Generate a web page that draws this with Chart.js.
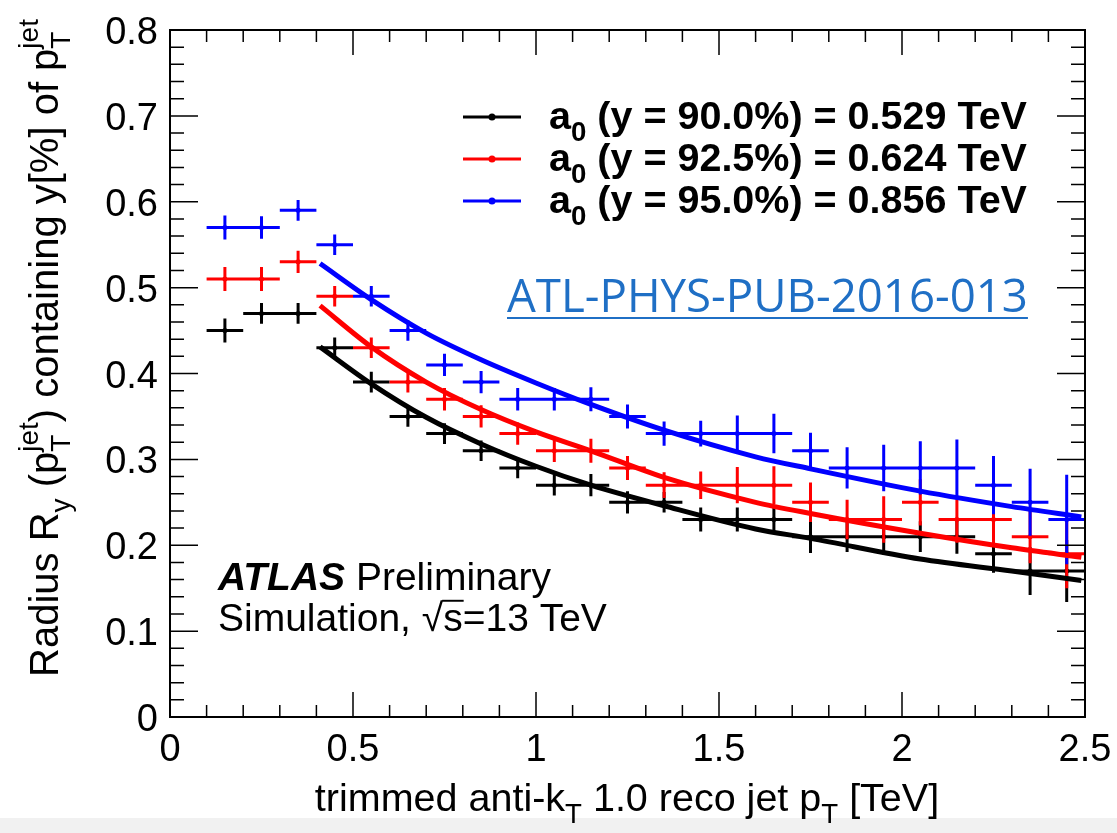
<!DOCTYPE html>
<html>
<head>
<meta charset="utf-8">
<script src="https://cdn.jsdelivr.net/npm/chart.js@4.4.1/dist/chart.umd.min.js"></script>
<style>
  html, body { margin: 0; padding: 0; background: #fff; }
  canvas { display: block; }
</style>
</head>
<body>
<canvas id="radius" width="1117" height="833"></canvas>
<script>
// pT bins of 0.1 TeV
const binCenters = [0.15, 0.25, 0.35, 0.45, 0.55, 0.65, 0.75, 0.85, 0.95, 1.05, 1.15, 1.25,
                    1.35, 1.45, 1.55, 1.65, 1.75, 1.85, 1.95, 2.05, 2.15, 2.25, 2.35, 2.45]
const binHalfWidth = 0.05

// radius containing 90 / 92.5 / 95 % of the jet pT
const r900 = [0.45, 0.47, 0.47, 0.43, 0.39, 0.35, 0.33, 0.31, 0.29, 0.27, 0.27, 0.25,
              0.25, 0.23, 0.23, 0.23, 0.21, 0.21, 0.21, 0.21, 0.21, 0.19, 0.17, 0.17]
const r900Err = [0.014, 0.012, 0.012, 0.012, 0.012, 0.012, 0.012, 0.012, 0.012, 0.012, 0.013, 0.013,
                 0.012, 0.014, 0.014, 0.014, 0.019, 0.018, 0.021, 0.018, 0.020, 0.022, 0.028, 0.036]
const r925 = [0.51, 0.51, 0.53, 0.49, 0.43, 0.39, 0.37, 0.35, 0.33, 0.31, 0.31, 0.29,
              0.27, 0.27, 0.27, 0.27, 0.25, 0.23, 0.23, 0.25, 0.23, 0.23, 0.21, 0.19]
const r925Err = [0.014, 0.014, 0.013, 0.012, 0.012, 0.012, 0.013, 0.013, 0.013, 0.013, 0.014, 0.014,
                 0.015, 0.016, 0.021, 0.022, 0.023, 0.023, 0.027, 0.027, 0.027, 0.028, 0.031, 0.040]
const r950 = [0.57, 0.57, 0.59, 0.55, 0.49, 0.45, 0.41, 0.39, 0.37, 0.37, 0.37, 0.35,
              0.33, 0.33, 0.33, 0.33, 0.31, 0.29, 0.29, 0.29, 0.29, 0.27, 0.25, 0.23]
const r950Err = [0.014, 0.013, 0.012, 0.012, 0.012, 0.012, 0.013, 0.013, 0.013, 0.013, 0.014, 0.014,
                 0.014, 0.015, 0.021, 0.023, 0.021, 0.024, 0.027, 0.031, 0.033, 0.034, 0.039, 0.052]

// fitted curves, sampled
const fitPt = [0.41, 0.55, 0.70, 0.85, 1.00, 1.15, 1.35, 1.60, 1.75, 2.05, 2.30, 2.49]
const fit900 = [0.431, 0.388, 0.349, 0.318, 0.292, 0.270, 0.246, 0.219, 0.208, 0.184, 0.170, 0.159]
const fit925 = [0.479, 0.431, 0.390, 0.358, 0.332, 0.310, 0.279, 0.250, 0.237, 0.214, 0.197, 0.186]
const fit950 = [0.528, 0.486, 0.447, 0.416, 0.389, 0.364, 0.334, 0.303, 0.289, 0.263, 0.245, 0.233]

const legendFractions = ['90.0%', '92.5%', '95.0%']
const legendA0 = ['0.529', '0.624', '0.856']

const xTicks = [0, 0.5, 1, 1.5, 2, 2.5]
const xTickLabels = ['0', '0.5', '1', '1.5', '2', '2.5']
const yTicks = [0, 0.1, 0.2, 0.3, 0.4, 0.5, 0.6, 0.7, 0.8]
const yTickLabels = ['0', '0.1', '0.2', '0.3', '0.4', '0.5', '0.6', '0.7', '0.8']

const FONT = '"Liberation Sans", Arial, Helvetica, sans-serif'
const colors = ['#000000', '#ff0000', '#0000ff']

function points(xs, ys) {
  return xs.map((x, i) => ({ x: x, y: ys[i] }))
}

// rich text: plain parts {t}, index parts {sub, sup}
function richWidth(ctx, parts, size, style) {
  let w = 0
  for (const p of parts) {
    if (p.t !== undefined) {
      ctx.font = `${p.style || style} ${size}px ${FONT}`
      w += ctx.measureText(p.t).width
    } else {
      ctx.font = `${style} ${size * 0.7}px ${FONT}`
      w += Math.max(p.sub ? ctx.measureText(p.sub).width : 0, p.sup ? ctx.measureText(p.sup).width : 0)
    }
  }
  return w
}

function drawRich(ctx, parts, x, y, size, style, align) {
  let cx = align === 'center' ? x - richWidth(ctx, parts, size, style) / 2 : x
  ctx.textAlign = 'left'
  ctx.textBaseline = 'alphabetic'
  for (const p of parts) {
    if (p.t !== undefined) {
      ctx.font = `${p.style || style} ${size}px ${FONT}`
      ctx.fillText(p.t, cx, y)
      const w = ctx.measureText(p.t).width
      if (p.overline) {
        ctx.fillRect(cx - 1, y - size * 0.8, w + 2, Math.max(1.5, size * 0.05))
      }
      cx += w
    } else {
      ctx.font = `${style} ${size * 0.7}px ${FONT}`
      let w = 0
      if (p.sub) {
        ctx.fillText(p.sub, cx, y + size * 0.3)
        w = ctx.measureText(p.sub).width
      }
      if (p.sup) {
        ctx.fillText(p.sup, cx, y - size * 0.5)
        w = Math.max(w, ctx.measureText(p.sup).width)
      }
      cx += w
    }
  }
}

const errorBars = {
  id: 'errorBars',
  afterDatasetDraw(chart, args) {
    const ds = chart.data.datasets[args.index]
    if (!ds.yErr) return
    const ctx = chart.ctx
    const xs = chart.scales.x
    const ys = chart.scales.y
    ctx.save()
    ctx.strokeStyle = ds.borderColor
    ctx.lineWidth = 3
    ctx.beginPath()
    ds.data.forEach((p, i) => {
      const px = xs.getPixelForValue(p.x)
      const py = ys.getPixelForValue(p.y)
      ctx.moveTo(xs.getPixelForValue(p.x - binHalfWidth), py)
      ctx.lineTo(xs.getPixelForValue(p.x + binHalfWidth), py)
      ctx.moveTo(px, ys.getPixelForValue(p.y - ds.yErr[i]))
      ctx.lineTo(px, ys.getPixelForValue(p.y + ds.yErr[i]))
    })
    ctx.stroke()
    ctx.restore()
  }
}

const rootFrame = {
  id: 'rootFrame',
  beforeDraw(chart) {
    const ctx = chart.ctx
    ctx.save()
    ctx.fillStyle = '#f1f1f1'
    ctx.fillRect(0, 818, chart.width, chart.height - 818)
    ctx.restore()
  },
  afterDraw(chart) {
    const ctx = chart.ctx
    const a = chart.chartArea
    const xs = chart.scales.x
    const ys = chart.scales.y
    ctx.save()
    ctx.strokeStyle = '#000'
    ctx.fillStyle = '#000'
    ctx.lineWidth = 2
    ctx.strokeRect(a.left, a.top, a.right - a.left, a.bottom - a.top)

    // ticks inside the frame on all four sides
    ctx.beginPath()
    for (let i = 0; i <= 25; i++) {
      const px = xs.getPixelForValue(i / 10)
      const len = i % 5 === 0 ? 25 : 12
      ctx.moveTo(px, a.bottom); ctx.lineTo(px, a.bottom - len)
      ctx.moveTo(px, a.top); ctx.lineTo(px, a.top + len)
    }
    for (let i = 0; i <= 40; i++) {
      const py = ys.getPixelForValue(i / 50)
      const len = i % 5 === 0 ? 28 : 14
      ctx.moveTo(a.left, py); ctx.lineTo(a.left + len, py)
      ctx.moveTo(a.right, py); ctx.lineTo(a.right - len, py)
    }
    ctx.lineWidth = 1.5
    ctx.stroke()

    // tick labels
    ctx.font = `38px ${FONT}`
    ctx.textAlign = 'center'
    ctx.textBaseline = 'alphabetic'
    xTicks.forEach((v, i) => ctx.fillText(xTickLabels[i], xs.getPixelForValue(v), a.bottom + 44))
    ctx.textAlign = 'right'
    yTicks.forEach((v, i) => ctx.fillText(yTickLabels[i], a.left - 12, ys.getPixelForValue(v) + 14))

    // axis titles
    drawRich(ctx, [{ t: 'trimmed anti-k' }, { sub: 'T' }, { t: ' 1.0 reco jet p' }, { sub: 'T' }, { t: ' [TeV]' }],
      627, 811, 39.5, 'normal', 'center')
    ctx.save()
    ctx.translate(58, 348)
    ctx.rotate(-Math.PI / 2)
    drawRich(ctx, [{ t: 'Radius R' }, { sub: 'y' }, { t: ' (p' }, { sub: 'T', sup: 'jet' },
      { t: ') containing y[%] of p' }, { sub: 'T', sup: 'jet' }], 0, 0, 40, 'normal', 'center')
    ctx.restore()

    // legend
    legendFractions.forEach((f, i) => {
      const ly = 117 + i * 42
      ctx.strokeStyle = colors[i]
      ctx.fillStyle = colors[i]
      ctx.lineWidth = 3
      ctx.beginPath()
      ctx.moveTo(463, ly); ctx.lineTo(521, ly)
      ctx.stroke()
      ctx.beginPath()
      ctx.arc(492, ly, 3.5, 0, Math.PI * 2)
      ctx.fill()
      ctx.fillStyle = '#000'
      drawRich(ctx, [{ t: 'a' }, { sub: '0' }, { t: ' (y = ' + f + ') = ' + legendA0[i] + ' TeV' }],
        549, ly + 12, 39.5, 'bold', 'left')
    })

    // ATLAS label
    ctx.fillStyle = '#000'
    drawRich(ctx, [{ t: 'ATLAS', style: 'italic bold' }, { t: ' Preliminary' }], 218, 590, 39, 'normal', 'left')
    drawRich(ctx, [{ t: 'Simulation, √' }, { t: 's', overline: true }, { t: '=13 TeV' }], 218, 631, 39, 'normal', 'left')

    // note reference, stretched to its 521 px span
    const ref = 'ATL-PHYS-PUB-2016-013'
    ctx.font = `44px "Open Sans", ${FONT}`
    const refSize = 44 * 521 / ctx.measureText(ref).width
    ctx.font = `${refSize}px "Open Sans", ${FONT}`
    ctx.fillStyle = '#1f6fc5'
    ctx.textAlign = 'left'
    ctx.textBaseline = 'alphabetic'
    ctx.fillText(ref, 507, 312)
    ctx.fillRect(507, 317, ctx.measureText(ref).width, 2)
    ctx.restore()
  }
}

const series = [
  { label: '90.0%', r: r900, err: r900Err, fit: fit900 },
  { label: '92.5%', r: r925, err: r925Err, fit: fit925 },
  { label: '95.0%', r: r950, err: r950Err, fit: fit950 }
]

const datasets = []
series.forEach((s, i) => {
  datasets.push({
    label: s.label,
    data: points(binCenters, s.r),
    yErr: s.err,
    borderColor: colors[i],
    backgroundColor: colors[i],
    pointRadius: 2.5,
    pointBorderWidth: 0,
    showLine: false,
    order: 6 - i
  })
})
series.forEach((s, i) => {
  datasets.push({
    label: s.label + ' fit',
    data: points(fitPt, s.fit),
    borderColor: colors[i],
    borderWidth: 5,
    pointRadius: 0,
    showLine: true,
    cubicInterpolationMode: 'monotone',
    order: 3 - i
  })
})

new Chart(document.getElementById('radius'), {
  type: 'scatter',
  data: { datasets: datasets },
  options: {
    responsive: false,
    animation: false,
    events: [],
    layout: { padding: { left: 170, right: 32, top: 30, bottom: 116 } },
    plugins: {
      legend: { display: false },
      tooltip: { enabled: false }
    },
    scales: {
      x: { type: 'linear', min: 0, max: 2.5, display: false },
      y: { type: 'linear', min: 0, max: 0.8, display: false }
    }
  },
  plugins: [errorBars, rootFrame]
})
</script>
</body>
</html>
